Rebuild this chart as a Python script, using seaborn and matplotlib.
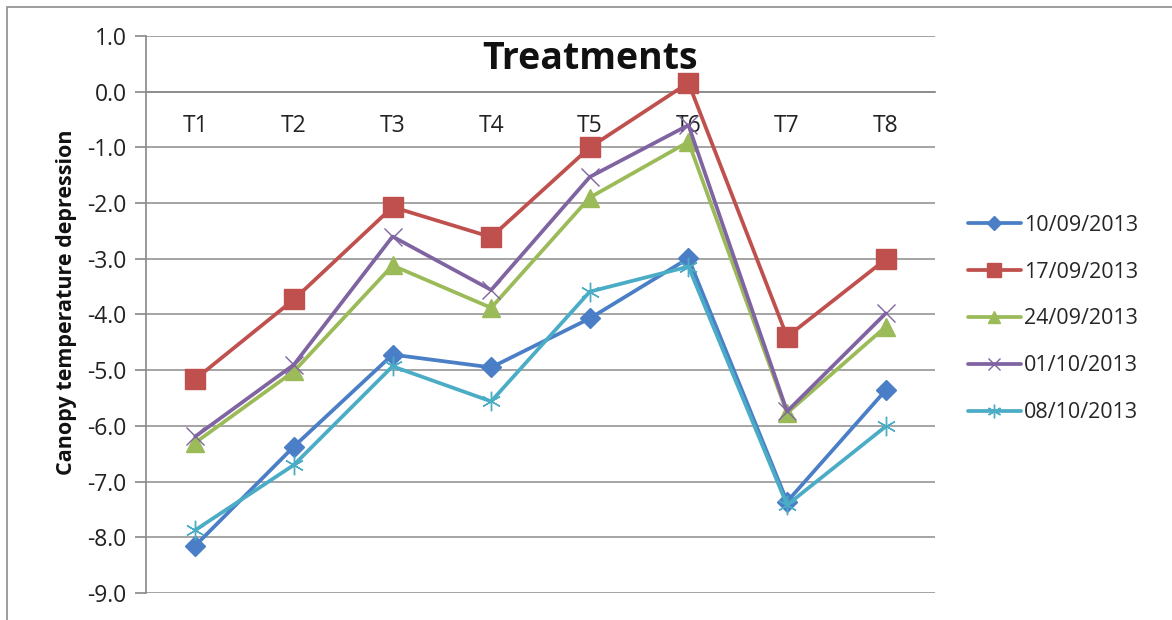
import matplotlib
matplotlib.use("Agg")
import matplotlib.pyplot as plt
from matplotlib.patches import Rectangle
from matplotlib.lines import Line2D
import seaborn as sns
import pandas as pd
import numpy as np

# Treatments on the category axis
treatments = ["T1", "T2", "T3", "T4", "T5", "T6", "T7", "T8"]

# Measurement dates (one series each)
dates = ["10/09/2013", "17/09/2013", "24/09/2013", "01/10/2013", "08/10/2013"]

# Canopy temperature depression per treatment, per date
ctd_10_09 = [-8.15, -6.37, -4.72, -4.95, -4.07, -2.99, -7.36, -5.36]
ctd_17_09 = [-5.16, -3.73, -2.07, -2.61, -1.00, 0.16, -4.40, -3.01]
ctd_24_09 = [-6.30, -5.02, -3.12, -3.88, -1.90, -0.90, -5.77, -4.22]
ctd_01_10 = [-6.19, -4.90, -2.60, -3.56, -1.53, -0.60, -5.74, -3.98]
ctd_08_10 = [-7.87, -6.70, -4.93, -5.56, -3.59, -3.14, -7.42, -6.01]

y_ticks = [1.0, 0.0, -1.0, -2.0, -3.0, -4.0, -5.0, -6.0, -7.0, -8.0, -9.0]

series = [ctd_10_09, ctd_17_09, ctd_24_09, ctd_01_10, ctd_08_10]

frames = []
for d, vals in zip(dates, series):
    frames.append(pd.DataFrame({"treatment": treatments, "ctd": vals, "date": d}))
df = pd.concat(frames, ignore_index=True)

colors = ["#4A7EC6", "#C0504D", "#9BBB59", "#8064A2", "#4BACC6"]
markers = ["D", "s", "^", "x", (6, 2, 0)]
msizes = [10, 14, 12.5, 13, 14]
medges = [1.0, 1.0, 1.0, 1.0, 1.0]

sns.set_theme(style="white")
plt.rcParams["font.family"] = ["Open Sans", "DejaVu Sans"]

fig = plt.figure(figsize=(11.72, 6.2), dpi=100)
ax = fig.add_axes([146 / 1172, 1 - 593 / 620, (935 - 146) / 1172, (593 - 36) / 620])

for d, c, m, ms, me in zip(dates, colors, markers, msizes, medges):
    sub = df[df["date"] == d]
    sns.lineplot(data=sub, x="treatment", y="ctd", ax=ax, color=c, marker=m,
                 markersize=ms, markeredgecolor=c, markerfacecolor=c,
                 markeredgewidth=me, linewidth=2.7, sort=False, label=d,
                 legend=False, zorder=3)

ax.set_xlim(-0.5, len(treatments) - 0.5)
ax.set_ylim(-9.0, 1.0)
ax.set_yticks(y_ticks)
ax.set_yticklabels([f"{v:.1f}" for v in y_ticks], fontsize=16.5, color="#222222")
ax.yaxis.grid(True, color="#8c8c8c", linewidth=1.1)
ax.set_axisbelow(True)

# Category axis crosses the value axis at zero
ax.spines["bottom"].set_position(("data", 0))
ax.spines["bottom"].set_color("#8c8c8c")
ax.spines["left"].set_color("#8c8c8c")
ax.spines["top"].set_visible(False)
ax.spines["right"].set_visible(False)
ax.set_xticks(range(len(treatments)))
ax.set_xticklabels(treatments, fontsize=16.5, color="#222222")
ax.set_xticks(np.arange(-0.5, len(treatments), 1.0), minor=True)
ax.tick_params(axis="x", which="major", length=0, pad=16)
ax.tick_params(axis="x", which="minor", length=6, color="#8c8c8c", direction="out")
ax.tick_params(axis="y", which="major", length=8, color="#8c8c8c", direction="out", pad=6, left=True)

ax.set_xlabel("")
ax.set_ylabel("")
fig.text(67 / 1172, 1 - 302 / 620, "Canopy temperature depression", rotation=90,
         ha="center", va="center", fontsize=15.5, fontweight="bold", color="#111111")

fig.text(590 / 1172, 1 - 59 / 620, "Treatments", ha="center", va="center",
         fontsize=27, fontweight="bold", color="#111111")

handles = [Line2D([0], [0], color=c, marker=m, markersize=ms * 0.7,
                  markerfacecolor=c, markeredgecolor=c, linewidth=2.7)
           for c, m, ms in zip(colors, markers, msizes)]
leg = fig.legend(handles, dates, loc="upper left",
                 bbox_to_anchor=(957 / 1172, 1 - 204 / 620), frameon=False,
                 fontsize=15.5, handlelength=2.45, handletextpad=0.15,
                 labelspacing=1.2, borderpad=0)

# Chart-area frame
fig.patches.append(Rectangle((7 / 1172, -0.1), 1.2, 1 - 7 / 620 + 0.1,
                             transform=fig.transFigure, fill=False,
                             edgecolor="#8c8c8c", linewidth=1.2))

fig.savefig("out.png", dpi=100)
